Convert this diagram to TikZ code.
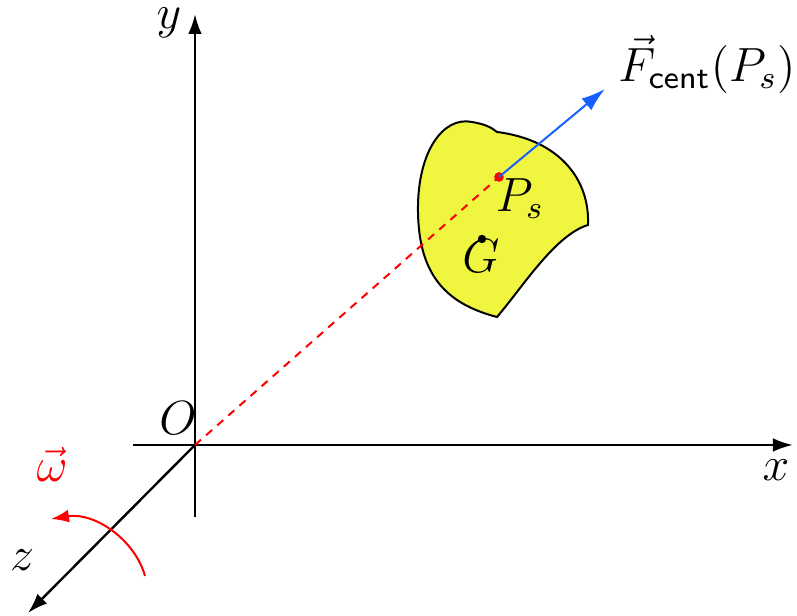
\documentclass[tikz,border=0pt]{standalone}
\usetikzlibrary{arrows.meta}
\definecolor{blobyellow}{RGB}{240,245,64}
\definecolor{arrowblue}{RGB}{25,95,255}
\begin{document}
\begin{tikzpicture}[x=0.25pt,y=-0.25pt,
  axis/.style={line width=0.6pt,-{Latex[length=5pt,width=3.4pt]}},
  lbl/.style={inner sep=0pt,font=\fontsize{11.6pt}{14pt}\selectfont},
  dotnode/.style={circle,fill,inner sep=0pt,minimum size=2.4pt}]
\useasboundingbox (0,0) rectangle (797,616);
% coordinates
\coordinate (O) at (195,445);
\coordinate (ybot) at (195,517);
\coordinate (ytop) at (195,14);
\coordinate (xleft) at (133,445);
\coordinate (xright) at (793,445);
\coordinate (zend) at (28,613);
\coordinate (Fend) at (605,89);
% blob
\draw[fill=blobyellow,line width=0.5pt] (497,132)
  .. controls (560,140) and (590,180) .. (588,225)
  .. controls (555,235) and (522,288) .. (497,317)
  .. controls (443,303) and (419,272) .. (418,212)
  .. controls (417,152) and (443,116) .. (472,122)
  .. controls (484,124) and (491,127) .. (497,132) -- cycle;
% axes
\draw[axis] (ybot) -- (ytop);
\draw[axis] (xleft) -- (xright);
\draw[axis] (O) -- (zend);
% points
\node[dotnode,red] (Ps) at (499,177) {};
\node[dotnode,minimum size=2.1pt] (G) at (482,239) {};
% dashed line
\draw[red,dash pattern=on 2pt off 1.7pt,line width=0.5pt] (O) -- (Ps.center);
% blue arrow
\draw[arrowblue,line width=0.5pt,-{Latex[length=6pt,width=3.8pt]}] (Ps.center) -- (Fend);
% omega arc
\coordinate (wstart) at (145,576);
\coordinate (wend) at (51,519);
\draw[red,line width=0.5pt,-{Latex[length=4.5pt,width=3.2pt]}] (wstart) .. controls (135,540) and (95,512) .. (wend);
% labels
\node[lbl] (ly) at (169,23) {$y$};
\node[lbl] (lx) at (776,470) {$x$};
\node[lbl] (lz) at (22,560) {$z$};
\node[lbl] (lO) at (178,418) {$O$};
\node[lbl,red] (lw) at (52,464) {$\vec{\omega}$};
\node[lbl] (lPs) at (520,199) {$P_s$};
\node[lbl] (lG) at (481,256) {$G$};
\node[lbl] (lF) at (707,64) {$\vec{F}_{\mathsf{cent}}(P_s)$};
\end{tikzpicture}
\end{document}
